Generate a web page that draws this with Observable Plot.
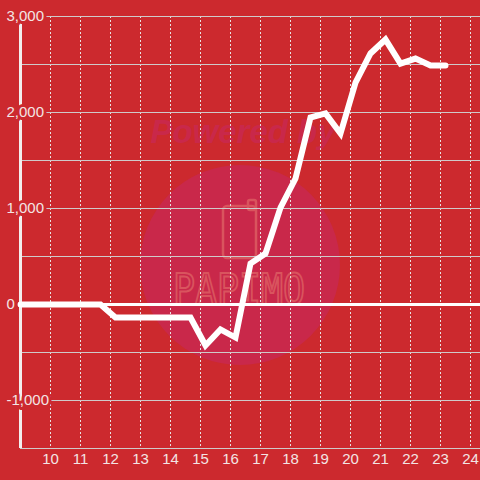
<!DOCTYPE html>
<html><head><meta charset="utf-8">
<script src="https://cdn.jsdelivr.net/npm/d3@7"></script>
<script src="https://cdn.jsdelivr.net/npm/@observablehq/plot@0.6"></script>
<style>
html,body{margin:0;padding:0;background:#cc292e;}
#wrap{position:relative;width:480px;height:480px;overflow:hidden;}
#wm{position:absolute;left:0;top:0;width:480px;height:480px;}
#chart{position:absolute;left:0;top:0;}
</style></head><body>
<div id="wrap">
<svg id="wm" width="480" height="480">
  <text x="243" y="143" text-anchor="middle" font-family="Liberation Sans, Arial, sans-serif" font-weight="bold" font-style="italic" font-size="33" fill="#c9284a">Powered by</text>
  <circle cx="240" cy="265" r="100" fill="#c9284a"/>
  <rect x="223" y="206" width="33" height="52" rx="4" fill="none" stroke="#d9545e" stroke-width="2.5"/>
  <rect x="248" y="200" width="8" height="10" rx="2" fill="none" stroke="#d9545e" stroke-width="2.5"/>
  <text x="239" y="304" text-anchor="middle" font-family="DejaVu Sans Mono, monospace" font-size="42" textLength="132" lengthAdjust="spacingAndGlyphs" fill="none" stroke="#d9545e" stroke-width="2">PAPIMO</text>
</svg>
<div id="chart"></div>
</div>
<script>
const times = ["9:00","9:10","9:40","10:10","10:40","11:10","11:40","12:10","12:40","13:10","13:40","14:10","14:40","15:10","15:40","16:10","16:40","17:10","17:40","18:10","18:40","19:10","19:40","20:10","20:40","21:10","21:40","22:10","22:40","23:10"];
const values = [0,0,0,0,0,0,0,-135,-135,-135,-135,-135,-135,-427,-260,-344,427,531,1010,1312,1948,1990,1781,2312,2615,2760,2510,2562,2490,2490];
const xTicks = [10,11,12,13,14,15,16,17,18,19,20,21,22,23,24];
const yGrid = [-1500,-1000,-500,0,500,1000,1500,2000,2500,3000];
const yLabels = [-1000,0,1000,2000,3000];

const toHour = s => { const [h, m] = s.split(":").map(Number); return h + m / 60; };
const data = times.map((t, i) => ({x: toHour(t), y: values[i]}));
const bg = "#cc292e";
const labelFill = "#f3e4e4";

const chart = Plot.plot({
  width: 480, height: 480,
  marginTop: 16, marginBottom: 32, marginLeft: 20, marginRight: 0,
  style: {background: "transparent", fontFamily: "'Liberation Sans', Arial, sans-serif"},
  x: {domain: [9, 9 + 460 / 30], axis: null},
  y: {domain: [-1500, 3000], axis: null},
  marks: [
    Plot.ruleX(xTicks, {x: d => d, stroke: "#e8e2e2", strokeWidth: 1, strokeDasharray: "2,2"}),
    Plot.ruleY(yGrid, {y: d => d, stroke: "#cfcaca", strokeWidth: 1}),
    Plot.ruleX([9], {x: d => d, stroke: "#f3eeee", strokeWidth: 3}),
    Plot.ruleY([0], {y: d => d, stroke: "#ffffff", strokeWidth: 3}),
    Plot.line(data, {x: "x", y: "y", stroke: "#ffffff", strokeWidth: 6, strokeLinejoin: "miter", strokeMiterlimit: 4}),
    Plot.text(yLabels, {y: d => d, frameAnchor: "left", dx: -14, textAnchor: "start",
      text: d => d.toLocaleString("en-US"), fontSize: 15, fill: labelFill,
      stroke: bg, strokeWidth: 6, paintOrder: "stroke"}),
    Plot.text(xTicks, {x: d => d, frameAnchor: "bottom", dy: 15, text: d => String(d),
      fontSize: 15, fill: labelFill})
  ]
});
document.getElementById("chart").appendChild(chart);
</script>
</body></html>
